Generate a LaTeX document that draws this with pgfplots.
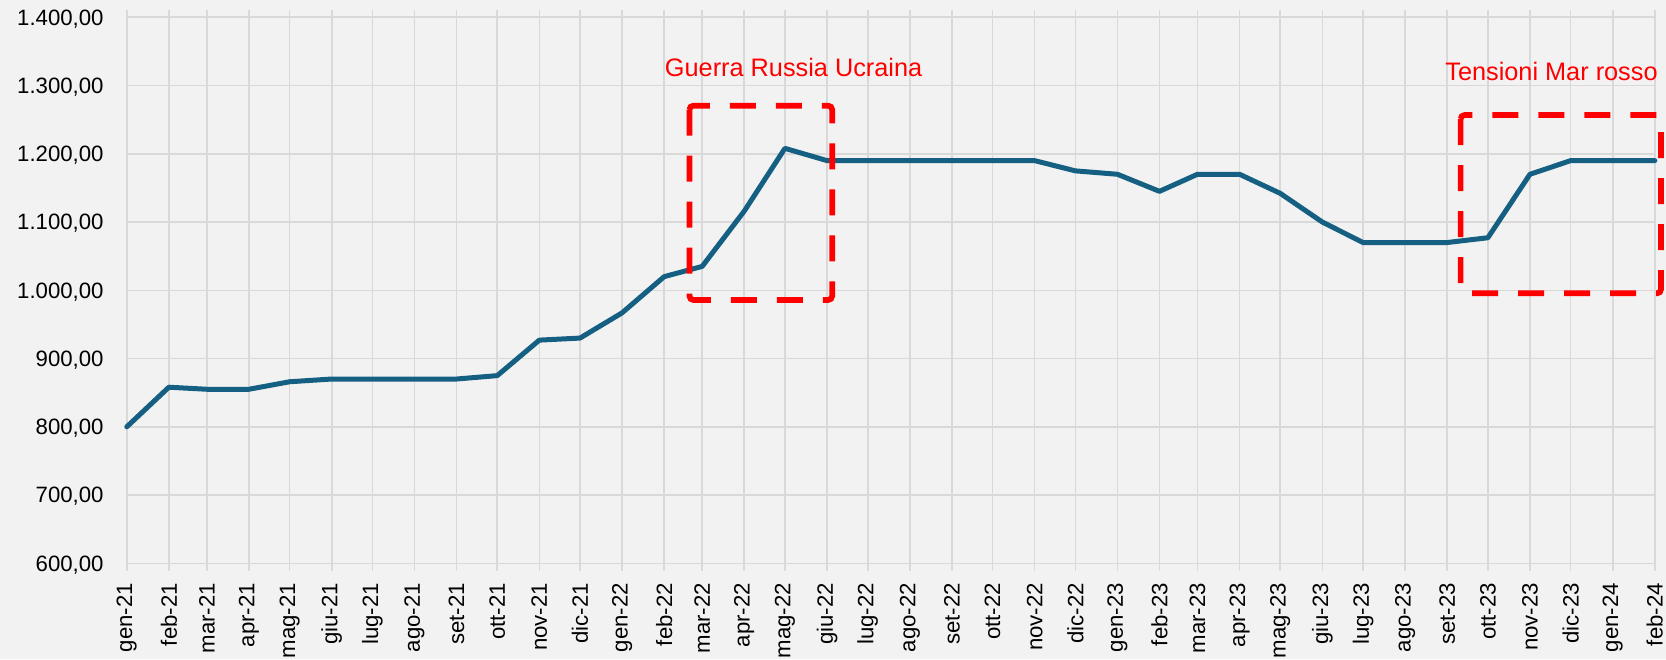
\documentclass[border=0pt]{standalone}
\usepackage{pgfplots}
\pgfplotsset{compat=1.18}
\usepackage{fontspec}
\setmainfont{Liberation Sans}
\definecolor{bg}{HTML}{F2F2F2}
\definecolor{gridc}{HTML}{D9D9D9}
\definecolor{linec}{HTML}{156082}
\pgfplotstableread{
x y
0 800
31 858
59 855
90 855
120 866
151 870
181 870
212 870
243 870
273 875
304 927
334 930
365 967
396 1020
424 1035
455 1116
485 1208
516 1190
546 1190
577 1190
608 1190
638 1190
669 1190
699 1175
730 1170
761 1145
789 1170
820 1170
850 1142
881 1100
911 1070
942 1070
973 1070
1003 1077
1034 1170
1064 1190
1095 1190
1126 1190
}\prices
\begin{document}
\begin{tikzpicture}
\fill[bg] (-63.4pt,-47.85pt) rectangle (769.6pt,281.65pt);
\begin{axis}[
  at={(0,0)}, anchor=south west, scale only axis,
  width=764pt, height=273pt,
  xmin=0, xmax=1126, ymin=600, ymax=1400,
  xtick={0,31,59,90,120,151,181,212,243,273,304,334,365,396,424,455,485,516,546,577,608,638,669,699,730,761,789,820,850,881,911,942,973,1003,1034,1064,1095,1126},
  xticklabels={gen-21,feb-21,mar-21,apr-21,mag-21,giu-21,lug-21,ago-21,set-21,ott-21,nov-21,dic-21,gen-22,feb-22,mar-22,apr-22,mag-22,giu-22,lug-22,ago-22,set-22,ott-22,nov-22,dic-22,gen-23,feb-23,mar-23,apr-23,mag-23,giu-23,lug-23,ago-23,set-23,ott-23,nov-23,dic-23,gen-24,feb-24},
  ytick={600,700,800,900,1000,1100,1200,1300,1400},
  grid=major,
  grid style={gridc, line width=0.8pt},
  axis line style={gridc, line width=0.8pt},
  tick style={gridc, line width=0.8pt},
  xtick align=outside,
  major tick length=3.7pt,
  y tick style={draw=none},
  /pgf/number format/fixed,
  /pgf/number format/fixed zerofill,
  /pgf/number format/precision=2,
  /pgf/number format/use comma,
  /pgf/number format/1000 sep={.},
  /pgf/number format/assume math mode=true,
  every tick label/.append style={font=\fontsize{11.1}{13}\selectfont, text=black},
  xticklabel style={rotate=90, anchor=east, inner sep=0pt},
  yticklabel style={anchor=east, inner sep=0pt, text depth=0pt},
  xticklabel shift=6pt,
  yticklabel shift=11.4pt,
  clip=false,
]
\addplot[linec, line width=2.5pt, line join=round, line cap=round] table[x=x,y=y] {\prices};
\draw[red, line width=2.85pt, dash pattern=on 13pt off 10pt, rounded corners=2pt]
  (axis cs:414.6,1270.5) rectangle (axis cs:519.8,985.8);
\draw[red, line width=2.85pt, dash pattern=on 13pt off 10pt, rounded corners=2pt]
  (axis cs:982.9,1256.8) rectangle (axis cs:1130.6,995.6);
\node[red, anchor=base, inner sep=0pt, font=\fontsize{12.65}{15}\selectfont] at (axis cs:491.4,1312.7) {Guerra Russia Ucraina};
\node[red, anchor=base east, inner sep=0pt, font=\fontsize{12.65}{15}\selectfont] at (axis cs:1128.4,1307) {Tensioni Mar rosso};
\end{axis}
\pgfresetboundingbox
\useasboundingbox (-63.4pt,-47.85pt) rectangle (769.6pt,281.65pt);
\end{tikzpicture}
\end{document}
